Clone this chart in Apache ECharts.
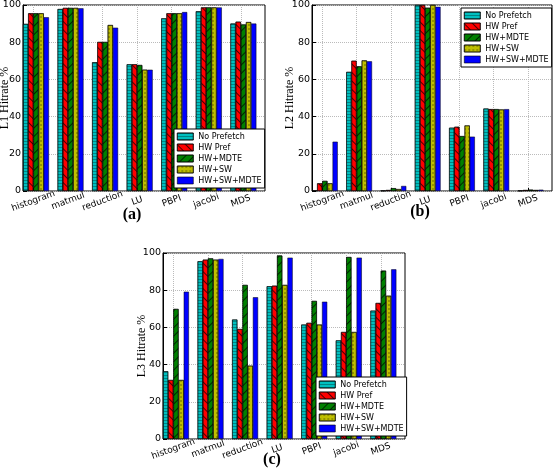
<!DOCTYPE html>
<html><head><meta charset="utf-8">
<script src="https://cdn.jsdelivr.net/npm/echarts@6.0.0/dist/echarts.min.js"></script>
<style>html,body{margin:0;padding:0;background:#fff}#c{width:553px;height:472px}</style>
</head><body><div id="c"></div>
<script>
const categories = ['histogram','matmul','reduction','LU','PBPI','jacobi','MDS'];
const seriesNames = ['No Prefetch','HW Pref','HW+MDTE','HW+SW','HW+SW+MDTE'];
const panelTitles = ['L1 Hitrate %','L2 Hitrate %','L3 Hitrate %'];
const panelLetters = ['(a)','(b)','(c)'];

const l1NoPrefetch = [89.8, 97.8, 69.2, 68.1, 92.8, 96.6, 90.0];
const l1HwPref     = [95.5, 98.4, 80.1, 68.1, 95.5, 98.7, 91.0];
const l1HwMdte     = [95.5, 98.4, 80.1, 67.7, 95.5, 98.7, 89.5];
const l1HwSw       = [95.5, 98.4, 89.2, 65.2, 95.5, 98.7, 90.8];
const l1HwSwMdte   = [93.4, 98.2, 87.8, 65.2, 96.2, 98.7, 90.0];

const l2NoPrefetch = [0.2, 64.0, 0.2, 100, 34.0, 44.3, 0.2];
const l2HwPref     = [4.1, 70.0, 0.5, 100, 34.5, 44.0, 0.5];
const l2HwMdte     = [5.4, 67.0, 1.5, 98.5, 29.5, 44.0, 0.7];
const l2HwSw       = [4.1, 70.2, 1.0, 100, 35.2, 43.8, 0.5];
const l2HwSwMdte   = [26.5, 69.7, 2.7, 99.0, 29.2, 44.0, 0.7];

const l3NoPrefetch = [36.4, 95.5, 64.2, 82.1, 61.5, 53.0, 69.0];
const l3HwPref     = [31.7, 96.4, 59.1, 82.4, 62.4, 57.5, 73.1];
const l3HwMdte     = [69.9, 97.1, 82.8, 98.6, 74.2, 97.8, 90.5];
const l3HwSw       = [31.7, 96.4, 39.4, 82.8, 61.5, 57.5, 77.0];
const l3HwSwMdte   = [79.2, 96.8, 76.2, 97.5, 73.8, 97.5, 91.2];

const panelData = [
  [l1NoPrefetch, l1HwPref, l1HwMdte, l1HwSw, l1HwSwMdte],
  [l2NoPrefetch, l2HwPref, l2HwMdte, l2HwSw, l2HwSwMdte],
  [l3NoPrefetch, l3HwPref, l3HwMdte, l3HwSw, l3HwSwMdte]
];

// ---- layout / styling ----
const grids = [
  {left: 23, top: 5, width: 242, height: 186},
  {left: 312, top: 5, width: 240, height: 186},
  {left: 163, top: 253, width: 242, height: 186}
];
const legendPos = [{left: 174, top: 129}, {left: 461, top: 8}, {left: 316, top: 377}];
const nameGaps = [12, 16, 15];
const letterPos = [[132, 215], [420, 212], [272, 460]];

const seriesStyles = [
  {color: '#00BFBF', decal: {symbol: 'rect', symbolSize: 1, dashArrayX: [1, 0], dashArrayY: [1, 1.5], color: 'rgba(0,60,60,0.45)'}},
  {color: '#FF0000', decal: {symbol: 'rect', symbolSize: 1, dashArrayX: [1, 0], dashArrayY: [1, 5], rotation: Math.PI / 4, color: 'rgba(0,0,0,0.7)'}},
  {color: '#008000', decal: {symbol: 'rect', symbolSize: 1, dashArrayX: [1, 0], dashArrayY: [1, 5], rotation: -Math.PI / 4, color: 'rgba(0,0,0,0.7)'}},
  {color: '#BFBF00', decal: {symbol: 'circle', symbolSize: 0.7, dashArrayX: [2, 1.5], dashArrayY: [2, 1.5], color: 'rgba(60,60,0,0.9)'}},
  {color: '#0000FF', decal: null}
];

const tickPos = categories.map((c, i) => i + 0.3);
const font = 'DejaVu Sans';

const xAxis = [], yAxis = [], series = [], legend = [], graphic = [];
grids.forEach((g, gi) => {
  xAxis.push({
    type: 'category', gridIndex: gi, data: categories, position: 'top', boundaryGap: true,
    axisLine: {show: false}, axisTick: {show: false}, axisLabel: {show: false}, splitLine: {show: false}
  });
  xAxis.push({
    type: 'value', gridIndex: gi, min: 0, max: 7, position: 'bottom',
    axisLine: {show: false},
    axisTick: {show: true, inside: true, length: 3, customValues: tickPos, lineStyle: {color: '#000'}},
    axisLabel: {
      customValues: tickPos, formatter: v => categories[Math.round(v - 0.3)],
      rotate: 20, align: 'center', verticalAlign: 'middle', margin: 10,
      fontSize: 9, color: '#000', fontFamily: font
    },
    splitLine: {show: true, lineStyle: {color: '#bbb', type: 'dotted', width: 1}}
  });
  yAxis.push({
    type: 'value', gridIndex: gi, min: 0, max: 100, interval: 20,
    name: panelTitles[gi], nameLocation: 'middle', nameGap: nameGaps[gi], nameMoveOverlap: false,
    nameTextStyle: {fontFamily: 'Liberation Serif', fontSize: 12, color: '#000'},
    axisLine: {show: true, lineStyle: {color: '#000'}},
    axisTick: {show: true, inside: true, length: 4, lineStyle: {color: '#000'}},
    axisLabel: {fontSize: 9.5, color: '#000', margin: 2, fontFamily: font},
    splitLine: {show: true, lineStyle: {color: '#bbb', type: 'dotted', width: 1}}
  });
  panelData[gi].forEach((vals, si) => {
    const st = seriesStyles[si];
    const itemStyle = {color: st.color, borderColor: '#000', borderWidth: 0.5};
    if (st.decal) itemStyle.decal = st.decal;
    series.push({
      type: 'bar', name: seriesNames[si], xAxisIndex: gi * 2, yAxisIndex: gi,
      data: vals, barWidth: '15%', barGap: '0%', itemStyle: itemStyle,
      emphasis: {disabled: true}, animation: false
    });
  });
  series.push({
    type: 'bar', name: 'spacer', xAxisIndex: gi * 2, yAxisIndex: gi,
    data: [], barWidth: '25%', barGap: '0%', animation: false
  });
  legend.push({
    data: seriesNames, orient: 'vertical', left: legendPos[gi].left, top: legendPos[gi].top,
    itemWidth: 16, itemHeight: 7, itemGap: 0, padding: [2, 3, 2, 3],
    backgroundColor: '#fff', borderColor: '#000', borderWidth: 1, borderRadius: 0,
    icon: 'rect', selectedMode: false,
    itemStyle: {borderColor: '#000', borderWidth: 0.6},
    textStyle: {fontSize: 8, fontFamily: font, color: '#000', lineHeight: 11}
  });
  graphic.push({
    type: 'text', x: letterPos[gi][0], y: letterPos[gi][1],
    style: {text: panelLetters[gi], align: 'center', verticalAlign: 'middle',
            font: 'bold 16px "Liberation Serif"', fill: '#000'}
  });
});

const chart = echarts.init(document.getElementById('c'), null, {renderer: 'canvas'});
chart.setOption({
  animation: false,
  backgroundColor: '#fff',
  grid: grids.map(g => Object.assign({show: true, borderColor: '#000', borderWidth: 1, backgroundColor: 'transparent', containLabel: false, outerBoundsMode: 'none'}, g)),
  xAxis: xAxis, yAxis: yAxis, series: series, legend: legend, graphic: graphic
});
</script></body></html>
